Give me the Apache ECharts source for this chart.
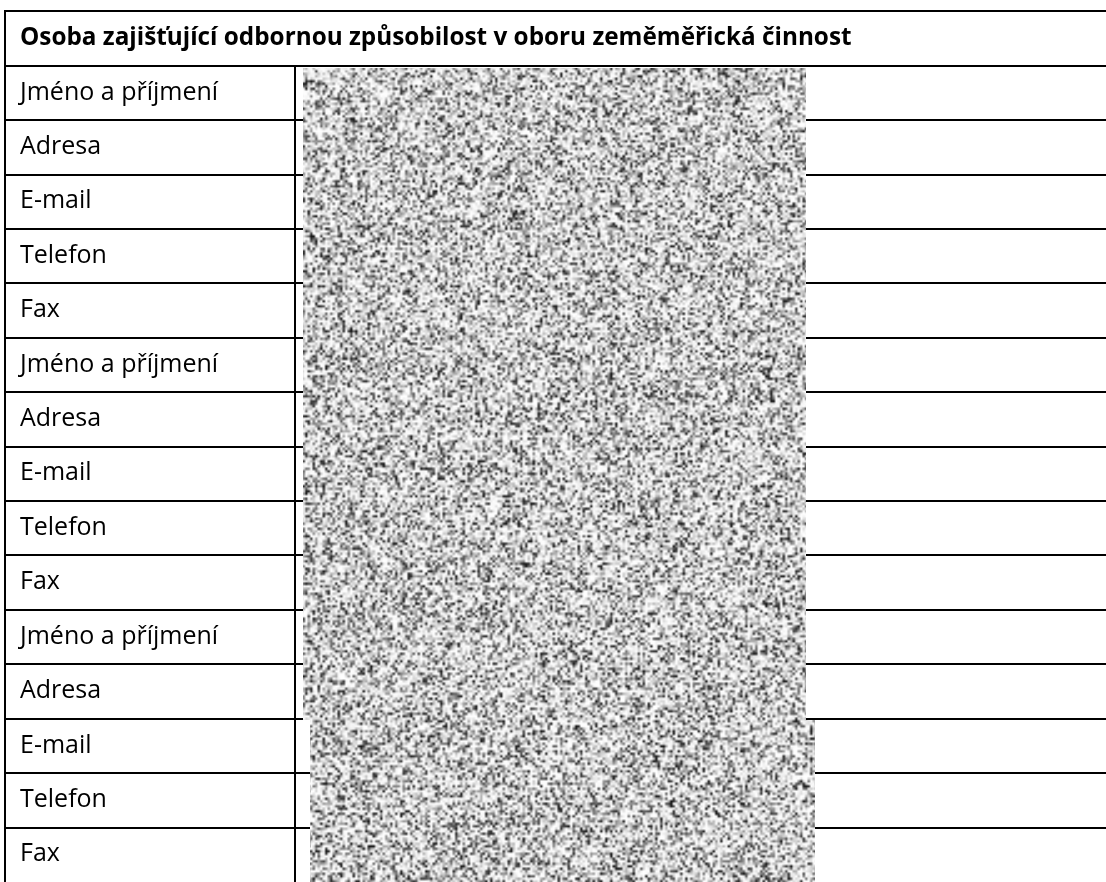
<!doctype html>
<html>
<head>
<meta charset="utf-8">
<title>Osoba zajišťující odbornou způsobilost</title>
<script src="https://cdn.jsdelivr.net/npm/echarts@6/dist/echarts.min.js"></script>
<style>
  html, body { margin: 0; padding: 0; background: #fff; }
  #main { width: 1106px; height: 882px; }
</style>
</head>
<body>
<div id="main"></div>
<script>
// data
var headerText = 'Osoba zajišťující odbornou způsobilost v oboru zeměměřická činnost';
var fields = ['Jméno a příjmení', 'Adresa', 'E-mail', 'Telefon', 'Fax'];
var personCount = 3;
var redactedRows = [[1, 12], [13, 15]];   // row ranges hidden under the scanned noise

var rows = [headerText];
for (var p = 0; p < personCount; p++) rows = rows.concat(fields);

// layout (px, grid starts at x=5)
var colSplit = 290;
var noiseX = [[298, 801], [305, 810]];
var FONT = '"Open Sans", sans-serif';

// grey speckle texture used for the redaction blocks
function hash(x, y) {
  var n = Math.imul(x, 374761393) + Math.imul(y, 668265263) | 0;
  n = Math.imul(n ^ (n >>> 13), 1274126177);
  n = n ^ (n >>> 16);
  return (n >>> 0) / 4294967296;
}
function makeNoise() {
  // big enough to cover the whole page, so the pattern never repeats
  var w = 340, h = 360, f = 2.5;
  var raw = document.createElement('canvas');
  raw.width = w; raw.height = h;
  var c = raw.getContext('2d');
  var img = c.createImageData(w, h);
  for (var y = 0; y < h; y++) {
    for (var x = 0; x < w; x++) {
      var g = Math.round(255 - 235 * Math.pow(hash(x, y), 2.6));
      var k = (y * w + x) * 4;
      img.data[k] = img.data[k + 1] = img.data[k + 2] = g;
      img.data[k + 3] = 255;
    }
  }
  c.putImageData(img, 0, 0);
  var out = document.createElement('canvas');
  out.width = Math.round(w * f); out.height = Math.round(h * f);
  var o = out.getContext('2d');
  o.imageSmoothingEnabled = true;
  o.drawImage(raw, 0, 0, out.width, out.height);
  return out;
}
var noise = makeNoise();

var chart = echarts.init(document.getElementById('main'));

function rowBox(api, i) {
  var c = api.coord([0, i]);
  var h = api.size([0, 1])[1];
  return { x: c[0], top: Math.round(c[1] - h / 2), bottom: Math.round(c[1] + h / 2), mid: c[1] };
}

function renderRow(params, api) {
  var i = api.value(0);
  var b = rowBox(api, i);
  var x0 = b.x;
  var x1 = api.coord([1101, i])[0];
  var st = { stroke: '#000', lineWidth: 2 };
  var kids = [
    { type: 'line', shape: { x1: x0, y1: b.top, x2: x1, y2: b.top }, style: st },
    { type: 'line', shape: { x1: x0, y1: b.top - 1, x2: x0, y2: b.bottom + 1 }, style: st },
    {
      type: 'text',
      style: {
        x: x0 + 15, y: b.mid - 0.5,
        text: rows[i],
        fill: '#000',
        font: i === 0 ? 'bold 24.3px ' + FONT : '25px ' + FONT,
        verticalAlign: 'middle'
      }
    }
  ];
  if (i > 0) {
    var xs = api.coord([colSplit, i])[0];
    kids.push({ type: 'line', shape: { x1: xs, y1: b.top, x2: xs, y2: b.bottom + 1 }, style: st });
  }
  return { type: 'group', children: kids };
}

function renderNoise(params, api) {
  var a = api.value(0), z = api.value(1);
  var k = params.dataIndex;
  var t = rowBox(api, a), e = rowBox(api, z);
  var xa = api.coord([noiseX[k][0], a])[0];
  var xb = api.coord([noiseX[k][1], a])[0];
  var y0 = t.top + (k === 0 ? 2 : 1);
  var y1 = e.bottom + 1;
  return {
    type: 'rect',
    shape: { x: xa, y: y0, width: xb - xa, height: y1 - y0 },
    style: { fill: { image: noise, repeat: 'repeat' } }
  };
}

chart.setOption({
  backgroundColor: '#fff',
  animation: false,
  grid: { left: 5, right: 0, top: 11.3, height: 876.2 },
  xAxis: { type: 'value', min: 0, max: 1101, show: false },
  yAxis: { type: 'category', data: rows, inverse: true, show: false },
  series: [
    {
      type: 'custom',
      renderItem: renderRow,
      data: rows.map(function (r, i) { return [i]; }),
      silent: true,
      clip: false,
      z: 1
    },
    {
      type: 'custom',
      renderItem: renderNoise,
      data: redactedRows,
      silent: true,
      clip: false,
      z: 2
    }
  ]
});
</script>
</body>
</html>
